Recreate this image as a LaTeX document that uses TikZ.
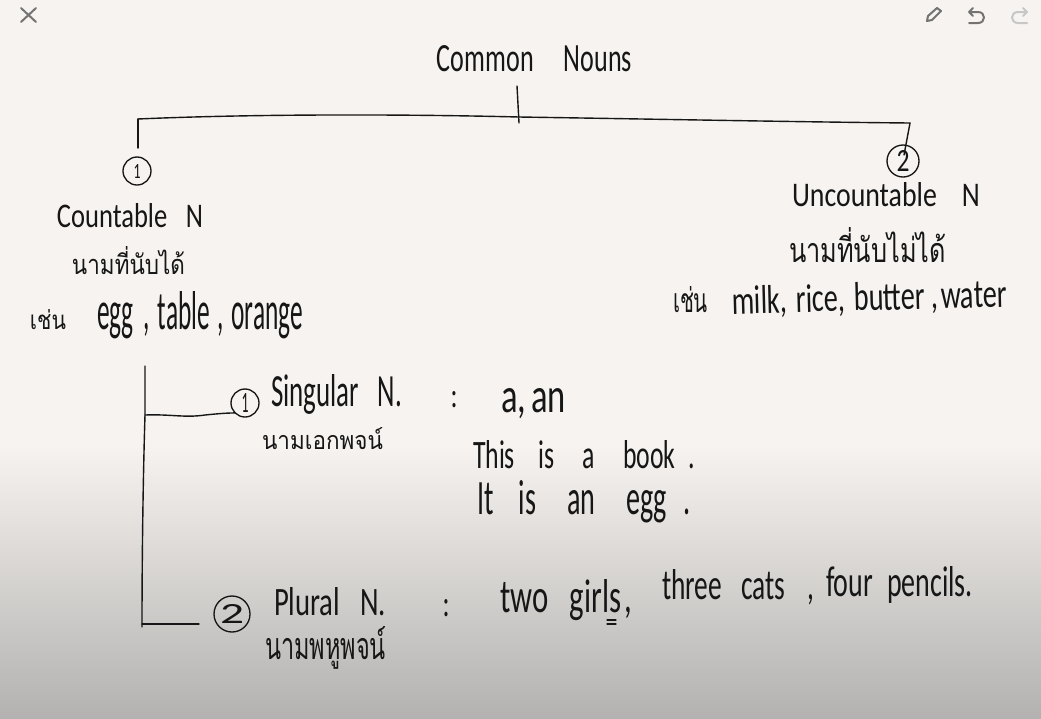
\documentclass[tikz,border=0pt]{standalone}
\usepackage{fontspec}
\usepackage{graphicx}
\setmainfont{Carlito}
\newfontfamily\thaifont[Script=Thai]{Loma}
% text fitted to a box given in reference pixels (width, height)
\newcommand{\fitb}[3]{\resizebox{\dimexpr 0.75pt*#1\relax}{\dimexpr 0.75pt*#2\relax}{\fontsize{20}{24}\selectfont #3}}
\newcommand{\gp}[1]{\hspace{#1em}}
\definecolor{ink}{HTML}{161616}
\definecolor{paper}{HTML}{F7F3F0}
\definecolor{paperlow}{HTML}{B3B2B0}
\tikzset{
  x=0.75pt,y=-0.75pt,
  hand/.style={inner sep=0pt,outer sep=0pt,text=ink,anchor=center},
  numring/.style={circle,draw=ink,line width=1pt,inner sep=0pt,outer sep=0pt,text=ink},
  ln/.style={draw=ink,line width=1.05pt,line cap=round,line join=round},
  uiicon/.style={line width=1.5pt,line cap=round,line join=round}
}
\begin{document}
\begin{tikzpicture}
\useasboundingbox (0,0) rectangle (1041,718);
\fill[paper] (0,0) rectangle (1041,445);
\shade[top color=paper,bottom color=paperlow,shading angle=0] (0,445) rectangle (1041,718);

% top icons
\draw[uiicon,draw=black!55] (21,8) -- (36,22) (36,8) -- (21,22);
\draw[uiicon,draw=black!55] (927,21) -- (928,16) -- (937,8) -- (941,11) -- (932,20) -- cycle;
\draw[uiicon,draw=black!55] (973,8) -- (969,12) -- (973,16) (969,12) -- (978,12) .. controls (986,12) and (986,23) .. (978,23) -- (969,23);
\draw[uiicon,draw=black!22] (1023,8) -- (1027,12) -- (1023,16) (1027,12) -- (1018,12) .. controls (1010,12) and (1010,23) .. (1018,23) -- (1027,23);

% headings
\node[hand] (title) at (534.5,58.5) {\fitb{195}{26}{Common\gp{1.15}Nouns}};
\node[hand] (cn) at (130,216) {\fitb{146}{24}{Countable\gp{0.7}N}};
\node[hand] (cnth) at (128.5,261) {\fitb{113}{28}{\thaifont นามที่นับได้}};
\node[hand] (cnex) at (48,320) {\fitb{36}{20}{\thaifont เช่น}};
\node[hand] (cnlist) at (200,315) {\fitb{206}{38}{egg\gp{0.4},\gp{0.3}table\gp{0.3},\gp{0.3}orange}};
\node[hand] (un) at (886,195) {\fitb{188}{24}{Uncountable\gp{0.9}N}};
\node[hand] (unth) at (867.5,245) {\fitb{157}{35}{\thaifont นามที่นับไม่ได้}};
\node[hand] (unex) at (690.5,300) {\fitb{35}{26}{\thaifont เช่น}};
\node[hand,rotate=1.5] (unlist) at (869.5,299) {\fitb{275}{28}{milk,\gp{0.3}rice,\gp{0.3}butter\gp{0.2},\gp{0.1}water}};

% numbered rings
\node[numring,minimum size=21pt] (r1) at (137,171) {\fitb{7}{14}{1}};
\node[numring,minimum size=24pt] (r2) at (903,161) {\fitb{13}{21}{2}};
\node[numring,minimum size=21pt] (s1) at (245,403) {\fitb{7}{19}{1}};
\node[numring,minimum size=27pt] (s2) at (232,614) {\fitb{24}{19}{2}};

% top tree
\coordinate (stemtop) at (517,86);
\coordinate (stembot) at (519,123);
\coordinate (barL) at (138,119);
\coordinate (barR) at (910,123);
\coordinate (barM) at (519,117);
\draw[ln] (stemtop) -- (stembot);
\draw[ln] (barL) .. controls (250,114) and (400,114) .. (barM) .. controls (650,119) and (800,122) .. (barR);
\draw[ln] (barL) -- (138,148);
\draw[ln] (barR) -- (904,155);

% lower tree
\coordinate (vtop) at (145,366);
\coordinate (vbot) at (142,627);
\coordinate (b1) at (145,415);
\coordinate (b2) at (142,624);
\draw[ln] (vtop) -- (b1) .. controls (143,480) and (142,560) .. (vbot);
\draw[ln] (b1) .. controls (170,414) and (185,418) .. (205,415) .. controls (215,414) and (225,413) .. (s1.south west);
\draw[ln] (b2) -- (199,624);

% singular
\node[hand] (sg) at (336.5,394) {\fitb{131}{32}{Singular\gp{0.7}N.}};
\node[hand] (sgth) at (322.5,439) {\fitb{121}{22}{\thaifont นามเอกพจน์}};
\node[hand] (sgc) at (454,400) {\fitb{7}{16}{:}};
\node[hand] (sga) at (533.5,404) {\fitb{65}{24}{a,\gp{0.15}an}};
\node[hand] (sg1) at (584,455) {\fitb{222}{28}{This\gp{0.9}is\gp{1.1}a\gp{1.1}book\gp{0.5}.}};
\node[hand] (sg2) at (584,502) {\fitb{214}{34}{It\gp{0.9}is\gp{1.1}an\gp{1.1}egg\gp{0.6}.}};

% plural
\node[hand] (pl) at (330,602) {\fitb{112}{28}{Plural\gp{0.7}N.}};
\node[hand] (plth) at (325.5,648) {\fitb{121}{33}{\thaifont นามพหูพจน์}};
\node[hand] (plc) at (446,608) {\fitb{7}{17}{:}};
\node[hand] (pl1) at (566,600) {\fitb{132}{33}{two\gp{0.7}girls\gp{0.1},}};
\node[hand] (pl2) at (738,587) {\fitb{152}{30}{three\gp{0.7}cats\gp{0.8},}};
\node[hand] (pl3) at (899.5,585) {\fitb{147}{30}{four\gp{0.5}pencils.}};
\draw[ln,line width=0.8pt] (607,620) -- (616,620) (607,624) -- (616,624);
\end{tikzpicture}
\end{document}
